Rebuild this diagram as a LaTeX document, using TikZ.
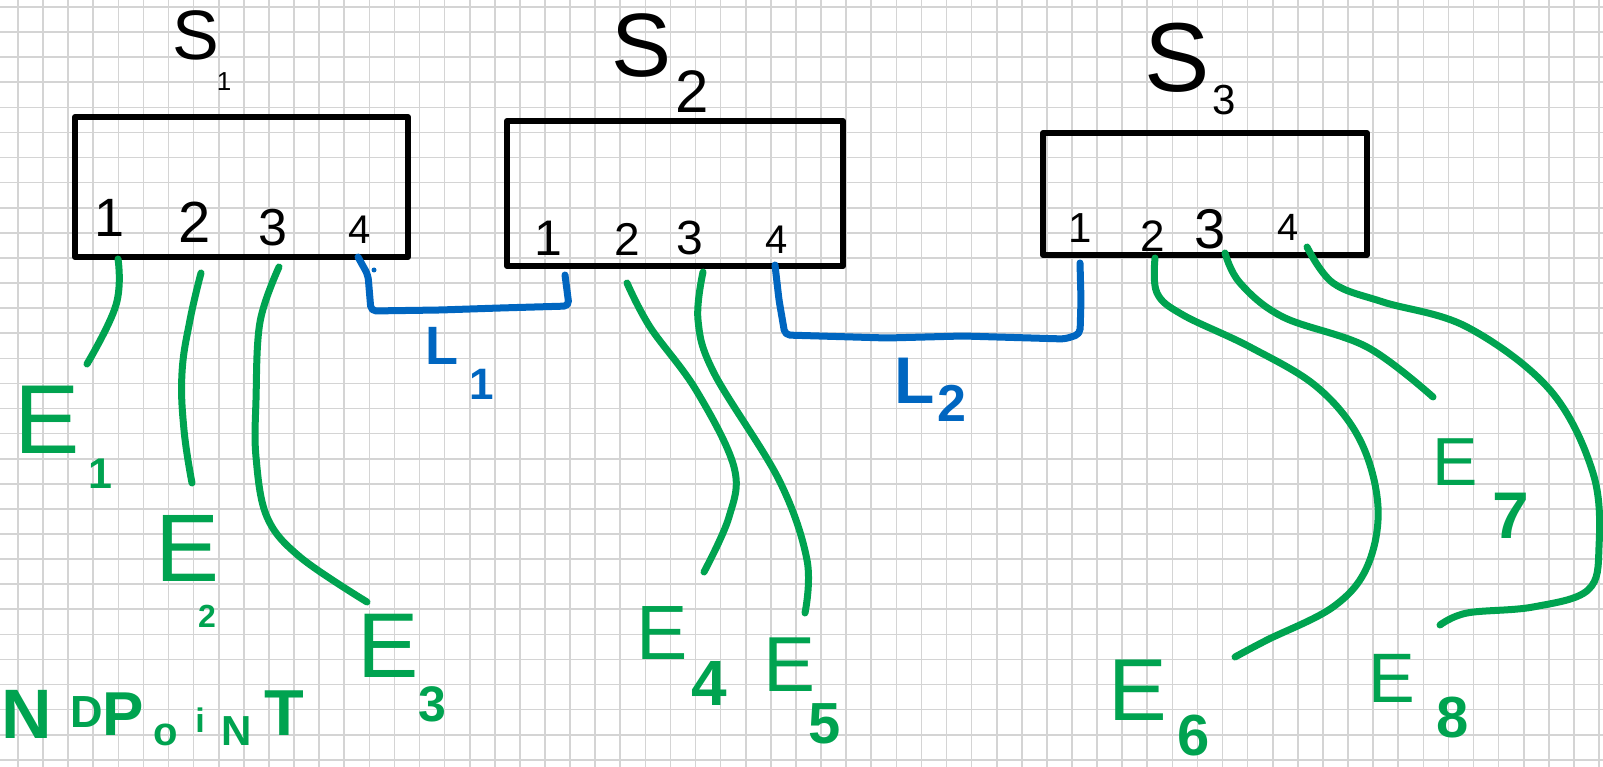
\documentclass[tikz,border=0pt]{standalone}
\usepackage{fontspec}
\setmainfont{Liberation Sans}
\definecolor{egreen}{RGB}{0,163,80}
\definecolor{lblue}{RGB}{0,102,192}
\definecolor{gridgray}{RGB}{212,212,212}
\newcommand\fsz[1]{\fontsize{#1}{#1}\selectfont}
\newcommand\ctr[1]{\makebox[0pt][c]{#1}}

\begin{document}
\begin{tikzpicture}[x=1pt,y=-1pt,
  gridline/.style={draw=gridgray,line width=1.6pt},
  swbox/.style={draw=black,line width=6pt,line join=round,inner sep=0pt},
  swname/.style={text=black,inner sep=0pt,font=\fsz{#1}},
  portnum/.style={text=black,inner sep=0pt,font=\fsz{#1}},
  wire/.style={draw=egreen,line width=7pt,line cap=round,line join=round},
  link/.style={draw=lblue,line width=7pt,line cap=round,line join=round,rounded corners=5pt},
  elab/.style={text=egreen,inner sep=0pt,font=\fsz{#1}},
  esub/.style={text=egreen,inner sep=0pt,font=\bfseries\fsz{#1}},
  llab/.style={text=lblue,inner sep=0pt,font=\bfseries\fsz{#1}},
]
\useasboundingbox (0,0) rectangle (1603,767);
\fill[white] (0,0) rectangle (1603,767);

% squared paper
\foreach \i in {0,...,63} \draw[gridline] (18+25.095*\i,0) -- (18+25.095*\i,767);
\foreach \j in {0,...,30} \draw[gridline] (0,7+25.095*\j) -- (1603,7+25.095*\j);

% switches
\node[swbox,minimum width=333pt,minimum height=140pt] (S1) at (241.5,187) {};
\node[swbox,minimum width=336pt,minimum height=145pt] (S2) at (675,193.5) {};
\node[swbox,minimum width=324pt,minimum height=122pt] (S3) at (1205,194) {};

% switch names
\node[swname=70] (t1) at (196,35) {S};
\node[swname=26] (t1s) at (224,82) {1};
\node[swname=90] (t2) at (642,46) {S};
\node[swname=60] (t2s) at (692,92) {2};
\node[swname=98] (t3) at (1177,58) {S};
\node[swname=42] (t3s) at (1224,100) {3};

% port numbers
\node[portnum=54] (a1) at (110,218) {1};
\node[portnum=58] (a2) at (195,222) {2};
\node[portnum=52] (a3) at (273,228) {3};
\node[portnum=40] (a4) at (360,230) {4};
\node[portnum=50] (b1) at (548,238) {1};
\node[portnum=46] (b2) at (627,239) {2};
\node[portnum=48] (b3) at (690,238) {3};
\node[portnum=40] (b4) at (777,240) {4};
\node[portnum=42] (c1) at (1080,228) {1};
\node[portnum=44] (c2) at (1153,236) {2};
\node[portnum=56] (c3) at (1210,229) {3};
\node[portnum=38] (c4) at (1288,227) {4};

% port attachment points
\coordinate (s1p1) at (118,259);
\coordinate (s1p2) at (201,273);
\coordinate (s1p3) at (279,267);
\coordinate (s1p4) at (358,257);
\coordinate (s2p1) at (565,275);
\coordinate (s2p2) at (627,283);
\coordinate (s2p3) at (703,272);
\coordinate (s2p4) at (775,265);
\coordinate (s3p1) at (1080,263);
\coordinate (s3p2) at (1155,258);
\coordinate (s3p3) at (1225,253);
\coordinate (s3p4) at (1307,247);

% free ends of the endpoint cables
\coordinate (e1end) at (87,364);
\coordinate (e2end) at (192,483);
\coordinate (e3end) at (367,602);
\coordinate (e4end) at (704,572);
\coordinate (e5end) at (805,613);
\coordinate (e6end) at (1235,657);
\coordinate (e7end) at (1433,397);
\coordinate (e8end) at (1440,625);

% endpoint cables
\draw[wire] plot[smooth,tension=0.7] coordinates {(s1p1) (116,305) (e1end)};
\draw[wire] plot[smooth,tension=0.7] coordinates {(s1p2) (190,320) (182,373) (184,430) (e2end)};
\draw[wire] plot[smooth,tension=0.6] coordinates {(s1p3) (260,322) (256,400) (256,457) (267,517) (300,557) (e3end)};
\draw[wire] plot[smooth,tension=0.6] coordinates {(s2p2) (650,327) (696,390) (734,467) (729,517) (e4end)};
\draw[wire] plot[smooth,tension=0.6] coordinates {(s2p3) (698,320) (714,373) (779,480) (807,560) (e5end)};
\draw[wire] plot[smooth,tension=0.6] coordinates {(s3p2) (1157,293) (1183,315) (1250,347) (1317,387) (1360,440) (1378,507) (1367,567) (1333,607) (1267,640) (e6end)};
\draw[wire] plot[smooth,tension=0.6] coordinates {(s3p3) (1240,283) (1283,317) (1367,347) (e7end)};
\draw[wire] plot[smooth,tension=0.6] coordinates {(s3p4) (1333,283) (1383,302) (1467,327) (1550,390) (1593,473) (1599,547) (1588,590) (1533,607) (1467,613) (e8end)};

% links between switches
\draw[link] (s1p4) -- (368,275) -- (371,311) -- (440,310) -- (500,308) -- (569,306) -- (s2p1);
\fill[lblue] (374,270) circle (2.5pt);
\draw[link] (s2p4) -- (779,300) -- (785,335) -- (887,338) -- (963,336) -- (1065,339) -- (1080,334) -- (1081,300) -- (s3p1);

% link names
\node[llab=54] (l1) at (442,346) {L};
\node[llab=44] (l1s) at (482,384) {1};
\node[llab=66] (l2) at (915,381) {L};
\node[llab=52] (l2s) at (952,403) {2};

% endpoint names
\node[elab=98] (E1) at (47,420) {E};
\node[esub=43] (E1s) at (100,474) {1};
\node[elab=96] (E2) at (188,548) {E};
\node[esub=32] (E2s) at (207,616) {2};
\node[elab=92] (E3) at (388,646) {E};
\node[esub=50] (E3s) at (432,704) {3};
\node[elab=77] (E4) at (662,633) {E};
\node[esub=64] (E4s) at (709,683) {4};
\node[elab=78] (E5) at (790,665) {E};
\node[esub=58] (E5s) at (825,724) {5};
\node[elab=88] (E6) at (1138,690) {E};
\node[esub=58] (E6s) at (1194,736) {6};
\node[elab=68] (E7) at (1455,462) {E};
\node[esub=66] (E7s) at (1511,516) {7};
\node[elab=70] (E8) at (1392,678) {E};
\node[esub=58] (E8s) at (1453,718) {8};

% caption in the lower left corner
\node[text=egreen,font=\bfseries,inner sep=0pt,anchor=base west] (cap) at (0,740)
  {\hspace{27pt}\ctr{\raisebox{2pt}{\fsz{70}N}}\hspace{60pt}\ctr{\raisebox{13pt}{\fsz{45}D}}\hspace{36pt}\ctr{\raisebox{5pt}{\fsz{62}P}}\hspace{43pt}\ctr{\raisebox{-5pt}{\fsz{40}o}}\hspace{34pt}\ctr{\raisebox{8pt}{\fsz{34}i}}\hspace{36pt}\ctr{\raisebox{-5pt}{\fsz{42}N}}\hspace{48pt}\ctr{\raisebox{5pt}{\fsz{65}T}}\hspace{31pt}};
\end{tikzpicture}
\end{document}
